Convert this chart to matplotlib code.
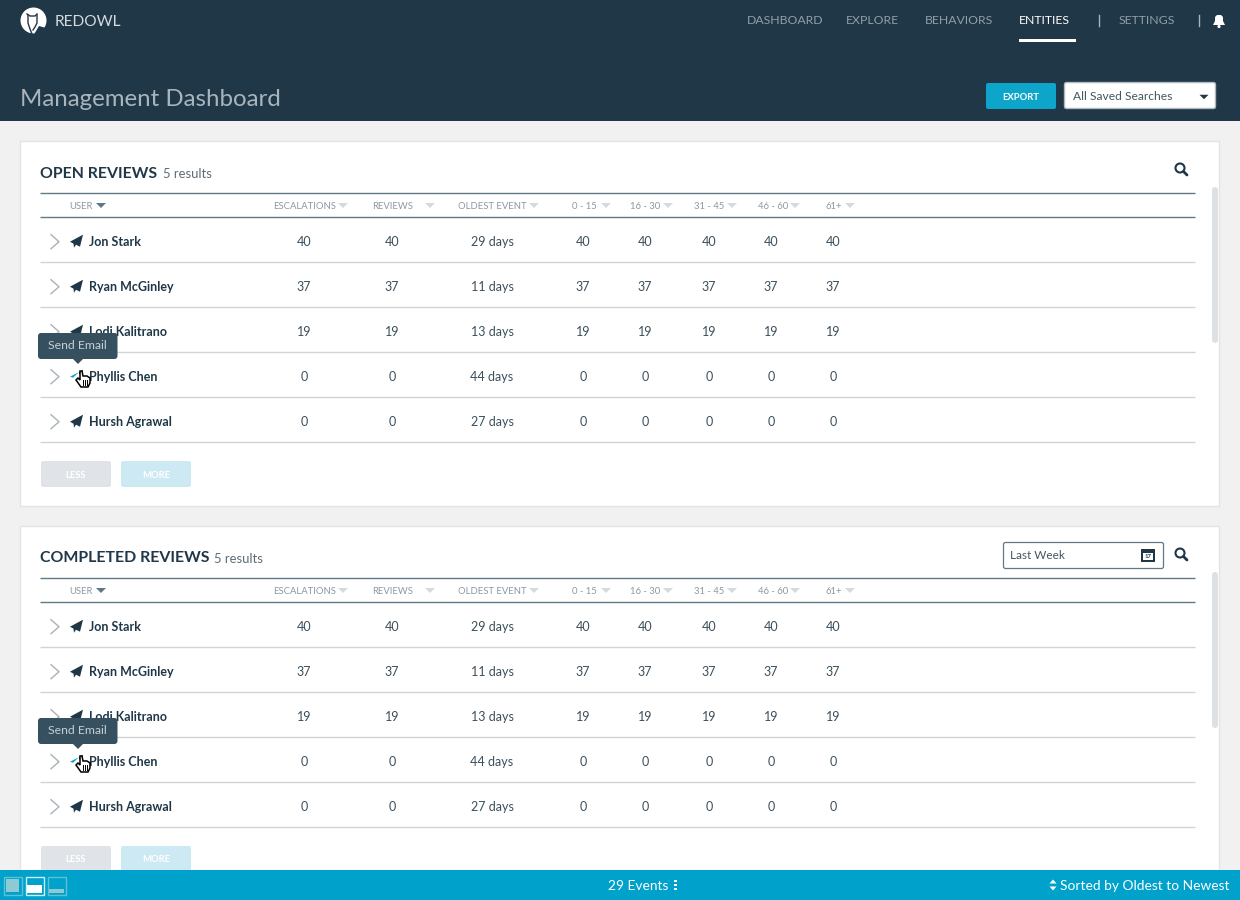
"""
Management dashboard screenshot redrawn with matplotlib
"""

import matplotlib
matplotlib.use("Agg")
import matplotlib.pyplot as plt
from matplotlib.patches import Circle, FancyBboxPatch, Polygon, Rectangle

plt.rcParams['font.family'] = ['Lato', 'DejaVu Sans']

# Data
nav_items = ["DASHBOARD", "EXPLORE", "BEHAVIORS", "ENTITIES", "SETTINGS"]
users = ["Jon Stark", "Ryan McGinley", "Lodi Kalitrano", "Phyllis Chen", "Hursh Agrawal"]
column_labels = ["ESCALATIONS", "REVIEWS", "OLDEST EVENT", "0 - 15", "16 - 30", "31 - 45", "46 - 60", "61+"]
escalations = [40, 37, 19, 0, 0]
reviews = [40, 37, 19, 0, 0]
oldest_days = [29, 11, 13, 44, 27]
bucket_0_15 = [40, 37, 19, 0, 0]
bucket_16_30 = [40, 37, 19, 0, 0]
bucket_31_45 = [40, 37, 19, 0, 0]
bucket_46_60 = [40, 37, 19, 0, 0]
bucket_61 = [40, 37, 19, 0, 0]

# Layout and colours, in screen pixels
NAVY = "#1f3747"
TEAL = "#00a2cb"
RULE = "#607888"
ROW_RULE = "#cfd4d8"
MUTED = "#8b99a3"
BODY = "#3c4f5b"
nav_x = [747, 846, 925, 1019, 1119]
label_x = [273.5, 372.5, 458.5, 571.5, 630.5, 694.5, 757.5, 825.5]
arrow_x = [343, 430, 534, 606, 668, 732, 795, 850]
value_x = [304, 392, 492, 583, 645, 709, 771, 833]

fig = plt.figure(figsize=(12.4, 9), dpi=100, facecolor="#f1f1f1")
ax = fig.add_axes([0, 0, 1, 1])
ax.set_xlim(0, 1240)
ax.set_ylim(900, 0)
ax.set_axis_off()


def px(size):
    # font size in pixels to points
    return size * 0.72


def label(x, y, text, size, color=BODY, ha="left", weight="normal", z=5):
    ax.text(x, y, text, fontsize=px(size), color=color, ha=ha, va="center_baseline",
            fontweight=weight, zorder=z)


def box(x0, y0, x1, y1, face, edge="none", lw=0.0, radius=2.0, z=2):
    ax.add_patch(FancyBboxPatch((x0, y0), x1 - x0, y1 - y0,
                                boxstyle=f"round,pad=0,rounding_size={radius}",
                                facecolor=face, edgecolor=edge, linewidth=lw, zorder=z))


def triangle(x, y, color, w=5.0, h=5.0, z=5):
    ax.add_patch(Polygon([(x - w, y - h / 2), (x + w, y - h / 2), (x, y + h / 2)],
                         closed=True, facecolor=color, edgecolor="none", zorder=z))


def plane(x, y, color=NAVY, z=5):
    ax.add_patch(Polygon([(x - 7, y + 0.5), (x + 6, y - 6.5), (x + 3, y + 5.5), (x - 1, y + 3.5),
                          (x - 3, y + 6.5), (x - 3.5, y + 2.5)],
                         closed=True, facecolor=color, edgecolor="none", zorder=z))


def hover_plane(x, y):
    # the hovered icon is mostly hidden, only a teal sliver and the tip show
    ax.add_patch(Polygon([(x - 7, y + 0.5), (x + 2, y - 4), (x - 4, y + 1.5)],
                         closed=True, facecolor=TEAL, edgecolor="none", zorder=5))
    ax.add_patch(Polygon([(x + 2, y - 4), (x + 6, y - 6.5), (x + 5, y - 2), (x + 2, y - 2)],
                         closed=True, facecolor=NAVY, edgecolor="none", zorder=5))


def search_icon(x, y):
    ax.add_patch(Circle((x - 1, y - 1), 4.5, facecolor="none", edgecolor=NAVY, linewidth=1.5, zorder=5))
    ax.plot([x + 2.5, x + 6], [y + 2.5, y + 6], color=NAVY, linewidth=2.0, solid_capstyle="round", zorder=5)


def hand_cursor(x, y):
    ax.add_patch(Polygon([(x - 3, y - 8), (x - 1, y - 8), (x, y - 3), (x + 4, y - 3), (x + 7, y - 1),
                          (x + 7, y + 4), (x + 5, y + 8), (x - 2, y + 8), (x - 7, y + 1), (x - 5, y - 1),
                          (x - 3, y + 1)],
                         closed=True, facecolor="white", edgecolor="black", linewidth=1.1, zorder=9))
    for dx in [-0.5, 1.5, 3.5]:
        ax.plot([x + dx, x + dx], [y + 1, y + 5.5], color="black", linewidth=0.7, zorder=10)


def draw_card(top, bottom, title, title_width):
    # top is the card's upper edge, every row hangs off it
    ax.add_patch(Rectangle((20, top - 0.2), 1199, bottom - top, facecolor="white",
                           edgecolor="#e4e4e4", linewidth=1, zorder=1))
    label(40, top + 31, title, 15.9, color=NAVY, weight="bold")
    label(40 + title_width + 5, top + 32, "5 results", 13, color="#5c6c76")

    for rule_y in [top + 51.8, top + 75.8]:
        ax.plot([40, 1195], [rule_y, rule_y], color=RULE, linewidth=1, solid_capstyle="butt", zorder=3)

    header_y = top + 64.5
    label(69.5, header_y, "USER", 9.5, color=MUTED)
    triangle(101, header_y, "#5f7887")
    for x, text, arrow in zip(label_x, column_labels, arrow_x):
        label(x, header_y, text, 9.5, color=MUTED)
        triangle(arrow, header_y, "#d5dade")

    for i, user in enumerate(users):
        y = top + 100.2 + 45 * i
        rule_y = top + 120.8 + 45 * i
        ax.plot([40, 1195], [rule_y, rule_y], color=ROW_RULE, linewidth=1, solid_capstyle="butt", zorder=3)
        ax.plot([51, 59, 51], [y - 6.5, y + 0.5, y + 7.5], color="#a9b2b8", linewidth=1.0, zorder=4)
        if i == 3:
            hover_plane(77, y)
        else:
            plane(77, y)
        label(89, y, user, 12.5, color=NAVY, weight="bold")

        values = [escalations[i], reviews[i], f"{oldest_days[i]} days", bucket_0_15[i],
                  bucket_16_30[i], bucket_31_45[i], bucket_46_60[i], bucket_61[i]]
        for x, value in zip(value_x, values):
            label(x, y, str(value), 12.5, ha="center")

    # tooltip over the fourth row
    tip_y = top + 192
    box(38, tip_y, 117.5, tip_y + 26, "#37505f", radius=3, z=7)
    ax.add_patch(Polygon([(73, tip_y + 26), (83, tip_y + 26), (78, tip_y + 31)],
                         closed=True, facecolor="#37505f", edgecolor="none", zorder=7))
    label(48, tip_y + 11.8, "Send Email", 12.3, color="#c5d0d6", z=8)
    hand_cursor(83, top + 238)

    # paging buttons
    box(41, top + 320, 111, top + 346, "#e0e4e8")
    box(121, top + 320, 191, top + 346, "#cdeaf4")
    label(76, top + 333, "LESS", 9.5, color="white", ha="center", weight="bold")
    label(156, top + 333, "MORE", 9.5, color="white", ha="center", weight="bold")

    # scrollbar
    box(1212, top + 46, 1218, top + 202, "#dde1e4", radius=3)


# Header band
ax.add_patch(Rectangle((0, 0), 1240, 121, facecolor=NAVY, edgecolor="none", zorder=1))

# Logo
ax.add_patch(Circle((33.5, 20.5), 13, facecolor="white", edgecolor="none", zorder=3))
ax.add_patch(Polygon([(39, 26), (46, 28), (40, 36), (33, 36)],
                     closed=True, facecolor=NAVY, edgecolor="none", zorder=4))
ax.plot([27, 30, 35, 37], [14, 16, 16, 14], color=NAVY, linewidth=1.0, zorder=5)
ax.plot([28, 28, 30, 32], [15, 23, 29, 34], color=NAVY, linewidth=1.0, zorder=5)
ax.plot([37, 37, 35, 33], [15, 23, 27, 30], color=NAVY, linewidth=1.0, zorder=5)
label(55, 21, "REDOWL", 15.5, color="#d5dadd")

# Navigation
for x, text in zip(nav_x, nav_items):
    active = text == "ENTITIES"
    label(x, 20, text, 12.3, color="white" if active else "#8f9fa9")
ax.add_patch(Rectangle((1019, 39), 57, 3, facecolor="white", edgecolor="none", zorder=3))
for x in [1099, 1199]:
    ax.plot([x, x], [15, 26], color="#a8b4bb", linewidth=1, zorder=3)

# Bell
ax.add_patch(Polygon([(1213, 25), (1215, 21), (1215, 17), (1217, 15), (1221, 15), (1223, 17), (1223, 21), (1225, 25)],
                     closed=True, facecolor="white", edgecolor="none", zorder=3))
ax.add_patch(Circle((1219, 26.5), 1.6, facecolor="white", edgecolor="none", zorder=3))

label(20, 97, "Management Dashboard", 24, color="#a9b5bc")

# Export button and saved searches
box(986, 83, 1056, 109, "#0ea5ca")
label(1021, 96, "EXPORT", 9.5, color="white", ha="center", weight="bold")
box(1064.5, 82.5, 1215.5, 108.5, "white", edge="#aeb8be", lw=1)
label(1073, 96, "All Saved Searches", 12, color="#43565f")
triangle(1204, 97, NAVY, w=4.5, h=4.5)

draw_card(141, 506, "OPEN REVIEWS", 118)
search_icon(1181, 169)

draw_card(526, 900, "COMPLETED REVIEWS", 169)
search_icon(1181, 554)

# Date filter
box(1003.5, 542.5, 1163.5, 568.5, "white", edge=RULE, lw=0.9)
label(1010, 554.5, "Last Week", 11.8, color="#43565f")
ax.add_patch(Rectangle((1141, 549), 14, 13, facecolor=NAVY, edgecolor="none", zorder=5))
ax.add_patch(Rectangle((1143, 553), 10, 7, facecolor="white", edgecolor="none", zorder=6))
label(1148, 556.5, "17", 6, color=NAVY, ha="center", weight="bold", z=7)

# Footer
ax.add_patch(Rectangle((0, 870), 1240, 30, facecolor=TEAL, edgecolor="none", zorder=6))
ax.add_patch(Rectangle((3.5, 876.5), 18, 18, facecolor="none", edgecolor="#5fbfd6", linewidth=1, zorder=7))
ax.add_patch(Rectangle((6, 879), 13, 13, facecolor="#8ecad3", edgecolor="none", zorder=7))
ax.add_patch(Rectangle((25.5, 876.5), 18, 18, facecolor="none", edgecolor="#cdeef6", linewidth=1, zorder=7))
ax.add_patch(Rectangle((27, 885), 15, 8, facecolor="white", edgecolor="none", zorder=7))
ax.add_patch(Rectangle((47.5, 876.5), 18, 18, facecolor="none", edgecolor="#5fbfd6", linewidth=1, zorder=7))
ax.add_patch(Rectangle((49, 889), 15, 4, facecolor="#8ecad3", edgecolor="none", zorder=7))

label(608, 885, "29 Events", 13.7, color="white", z=8)
for y in [881, 885, 889]:
    ax.add_patch(Rectangle((673.5, y - 1.2), 3, 2.6, facecolor="white", edgecolor="none", zorder=8))

triangle(1053, 888.5, "white", w=3.5, h=4, z=8)
ax.add_patch(Polygon([(1049.5, 883.5), (1056.5, 883.5), (1053, 879.5)], closed=True,
                     facecolor="white", edgecolor="none", zorder=8))
label(1230, 885, "Sorted by Oldest to Newest", 13.7, color="white", ha="right", z=8)

fig.savefig("out.png", dpi=100, facecolor=fig.get_facecolor())
